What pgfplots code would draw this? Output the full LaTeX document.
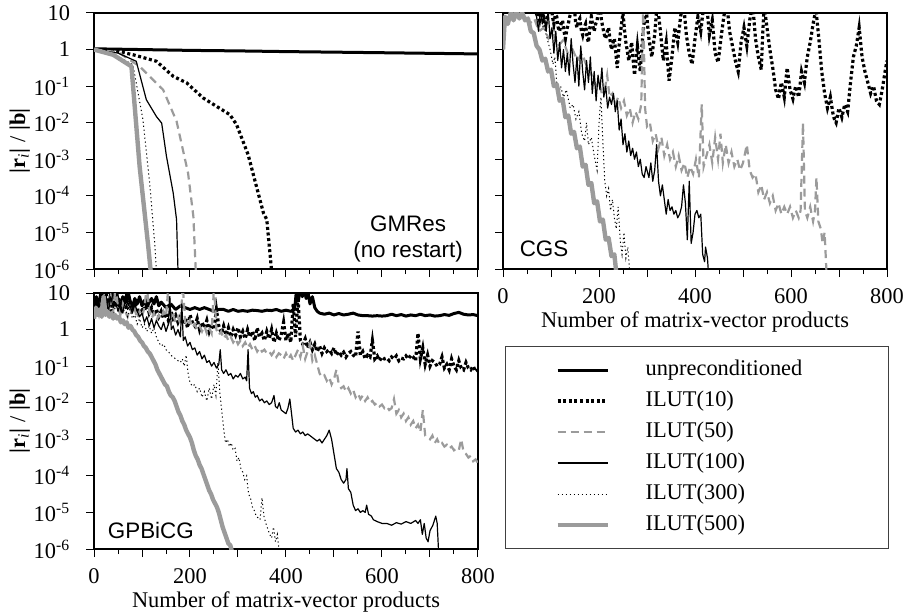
\documentclass[border=0pt]{standalone}
\usepackage{fontspec}
\setmainfont{Liberation Serif}
\newfontfamily\sansf{Liberation Sans}
\usepackage{pgfplots}
\pgfplotsset{compat=1.18}
\definecolor{mygray}{RGB}{155,155,155}
\tikzset{
  pA/.style={black, line width=1.5pt, line join=round},
  pB/.style={black, line width=1.6pt, dash pattern=on 1.5pt off 1.3pt},
  pC/.style={mygray, line width=1.1pt, dash pattern=on 4pt off 2.5pt},
  pD/.style={black, line width=0.6pt, line join=round},
  pE/.style={black, line width=0.5pt, dash pattern=on 0.6pt off 1.4pt},
  pF/.style={mygray, line width=2.2pt, line join=round},
}
\pgfplotsset{every axis/.append style={
    scale only axis, width=192pt, height=128pt,
    ymode=log, ymin=1e-6, ymax=10, xmin=0, xmax=800,
    ytick={1e-6,1e-5,1e-4,1e-3,1e-2,1e-1,1,10},
    yminorticks=false,
    xtick={0,100,...,800}, minor x tick num=1,
    tick align=outside, xtick pos=left, ytick pos=left,
    major tick length=4pt, minor tick length=2.5pt,
    tick style={black, line width=0.5pt},
    axis line style={line width=0.6pt},
    xticklabel style={yshift=-2pt},
    yticklabel style={xshift=-4pt},
    ylabel style={at={(axis description cs:-0.193,0.5)}, anchor=center},
    xlabel style={at={(axis description cs:0.5,-0.207)}, anchor=center},
}}
\begin{document}
\fontsize{11.2pt}{13.4pt}\selectfont
\begin{tikzpicture}
\useasboundingbox (0pt,0pt) rectangle (451.5pt,-307pt);
% ---------------- GMRes ----------------
\begin{axis}[at={(47pt,-134.5pt)}, anchor=south west,
  yticklabels={10\textsuperscript{-6},10\textsuperscript{-5},10\textsuperscript{-4},10\textsuperscript{-3},10\textsuperscript{-2},10\textsuperscript{-1},1,10},
  ylabel={\textbf{|r}\textsubscript{\textit{i}}\textbf{|} / \textbf{|b|}},
  xticklabels={}]
\addplot[pA] coordinates {(0,1.05)(100,1.0)(200,0.95)(300,0.92)(400,0.88)(500,0.85)(600,0.82)(700,0.79)(800,0.76)};
\addplot[pB] coordinates {(0,1.0)(40,0.95)(81,0.724)(130,0.479)(165,0.186)(193,0.123)(227,0.0479)(255,0.0282)(283,0.0166)(297,0.00891)(321,0.00135)(353,3.39e-5)(360,2.24e-5)(370,9e-7)};
\addplot[pC] coordinates {(0,1.0)(50,0.85)(95,0.347)(144,0.0794)(172,0.011)(196,4.17e-4)(207,2.75e-5)(212,9e-7)};
\addplot[pD] coordinates {(0,1.0)(50,0.8)(88,0.479)(109,0.0427)(130,0.0148)(141,0.00977)(151,0.0012)(165,1.2e-4)(172,2.24e-5)(175,9e-7)};
\addplot[pE] coordinates {(0,1.0)(40,0.75)(81,0.389)(102,0.012)(116,2.24e-4)(127,4.17e-6)(130,9e-7)};
\addplot[pF] coordinates {(0,1.0)(40,0.72)(78,0.347)(95,6.46e-4)(113,4.17e-6)(118,9e-7)};
\node[font=\sansf, align=center, inner sep=0pt] at (rel axis cs:0.818,0.117) {GMRes\\(no restart)};
\end{axis}
% ---------------- CGS ----------------
\begin{axis}[at={(251.5pt,-134.5pt)}, anchor=south west, yticklabels={},
  xticklabels={0,,200,,400,,600,,800}, xlabel={Number of matrix-vector products}]
\addplot[pB] coordinates {(70,20.0)(73,8.0)(76,6.31)(79,12.0)(82,8.91)(85,4.5)(88,3.98)(91,7.0)(94,10.0)(97,14.0)(100,20.0)(103,8.0)(106,5.01)(109,9.0)(112,7.94)(115,4.0)(118,3.16)(121,5.0)(124,6.31)(127,3.2)(130,2.00)(133,3.5)(136,5.01)(139,8.0)(142,10.0)(145,15.0)(148,20.0)(151,6.0)(154,3.98)(157,6.0)(160,7.08)(163,3.5)(166,2.51)(169,4.0)(172,5.01)(175,2.2)(178,1.58)(181,4.0)(184,7.94)(187,4.5)(190,3.16)(193,5.0)(196,6.31)(199,12.0)(202,20.0)(205,6.5)(208,3.98)(211,2.6)(214,2.00)(217,3.0)(220,3.98)(223,1.8)(226,1.00)(229,1.5)(232,2.00)(235,0.8)(238,0.316)(241,1.0)(244,2.51)(247,5.0)(250,10.0)(253,3.5)(256,1.58)(259,0.9)(262,0.501)(265,0.9)(268,1.58)(271,0.55)(274,0.200)(277,0.5)(280,1.26)(283,0.55)(286,0.251)(289,1.0)(292,3.16)(295,7.0)(298,15.8)(301,5.0)(304,2.00)(307,1.1)(310,0.631)(313,1.3)(316,2.51)(319,8.0)(322,20.0)(325,7.0)(328,3.16)(331,1.2)(334,0.501)(337,0.9)(340,1.58)(343,0.45)(346,0.141)(349,0.3)(352,0.631)(355,1.6)(358,3.98)(361,2.5)(364,1.58)(367,3.5)(370,7.94)(373,13.0)(376,20.0)(379,7.0)(382,2.51)(385,1.4)(388,0.794)(391,0.55)(394,0.398)(397,0.9)(400,2.00)(403,4.0)(406,7.94)(409,5.0)(412,3.16)(415,7.0)(418,15.8)(421,18.0)(424,20.0)(427,7.0)(430,2.51)(433,4.0)(436,6.31)(439,2.2)(442,0.794)(445,0.6)(448,0.447)(451,0.9)(454,2.00)(457,4.0)(460,7.94)(463,13.0)(466,20.0)(469,8.0)(472,3.16)(475,2.0)(478,1.26)(481,0.8)(484,0.501)(487,0.35)(490,0.251)(493,0.6)(496,1.58)(499,2.5)(502,3.98)(505,2.2)(508,1.26)(511,2.8)(514,6.31)(517,11.0)(520,20.0)(523,6.0)(526,2.00)(529,1.1)(532,0.631)(535,0.42)(538,0.282)(541,2.5)(544,15.8)(547,8.0)(550,3.98)(553,2.0)(556,1.00)(559,0.55)(562,0.316)(565,0.16)(568,0.0794)(571,0.06)(574,0.0447)(577,0.08)(580,0.126)(583,0.08)(586,0.0501)(589,0.13)(592,0.316)(595,0.16)(598,0.0794)(601,0.06)(604,0.0447)(607,0.07)(610,0.100)(613,0.07)(616,0.0501)(619,0.11)(622,0.251)(625,0.18)(628,0.126)(631,0.3)(634,0.631)(637,1.0)(640,1.58)(643,2.8)(646,5.01)(649,8.0)(652,12.6)(655,5.0)(658,2.00)(661,0.7)(664,0.251)(667,0.13)(670,0.0631)(673,0.04)(676,0.0251)(679,0.035)(682,0.0501)(685,0.028)(688,0.0158)(691,0.012)(694,0.0100)(697,0.016)(700,0.0251)(703,0.019)(706,0.0141)(709,0.021)(712,0.0316)(715,0.025)(718,0.0200)(721,0.05)(724,0.126)(727,0.28)(730,0.631)(733,0.9)(736,1.26)(739,2.2)(742,3.98)(745,1.6)(748,0.631)(751,0.4)(754,0.251)(757,0.18)(760,0.126)(763,0.09)(766,0.0631)(769,0.08)(772,0.100)(775,0.063)(778,0.0398)(781,0.035)(784,0.0316)(787,0.05)(790,0.0794)(793,0.14)(796,0.251)(800,0.501)};
\addplot[pC] coordinates {(0,1.00)(5,6.31)(15,12.6)(25,7.94)(35,15.8)(45,7.94)(55,5.01)(65,7.08)(75,3.16)(85,3.98)(95,2.00)(105,2.82)(115,1.26)(125,1.78)(135,0.794)(145,1.00)(155,0.501)(165,0.794)(170,0.501)(176,0.316)(182,0.251)(188,0.158)(194,0.100)(200,0.126)(206,0.0631)(212,0.0794)(217,0.200)(222,0.0501)(228,0.0631)(234,0.0316)(240,0.0501)(246,0.0251)(252,0.0398)(258,0.0158)(264,0.0251)(270,0.0100)(276,0.0200)(282,0.0126)(288,0.0316)(292,15.8)(296,0.0251)(300,7.94e-3)(306,1.00e-2)(312,3.16e-3)(318,5.01e-3)(324,2.00e-3)(330,3.98e-3)(336,1.26e-3)(342,2.51e-3)(348,1.00e-3)(354,1.58e-3)(360,6.31e-4)(366,1.26e-3)(372,5.01e-4)(378,7.94e-4)(384,3.16e-4)(390,6.31e-4)(396,3.98e-4)(402,1.00e-3)(408,3.16e-4)(414,3.16e-2)(418,6.31e-4)(424,1.26e-3)(430,2.51e-3)(436,7.94e-4)(442,3.98e-3)(448,1.00e-3)(453,5.01e-3)(458,7.94e-4)(464,2.51e-3)(470,7.94e-4)(476,1.58e-3)(482,6.31e-4)(488,1.00e-3)(494,5.01e-4)(500,7.94e-4)(508,2.51e-3)(514,5.01e-4)(520,3.16e-4)(526,3.98e-4)(532,1.26e-4)(538,2.00e-4)(544,7.94e-5)(550,1.26e-4)(556,6.31e-5)(562,1.00e-4)(568,3.98e-5)(574,6.31e-5)(580,3.16e-5)(586,5.01e-5)(592,3.16e-5)(598,5.01e-5)(604,2.51e-5)(610,3.98e-5)(616,2.51e-5)(620,3.98e-5)(625,1.00e-2)(629,3.98e-5)(634,2.51e-5)(640,5.01e-5)(646,2.00e-5)(650,3.98e-5)(653,3.16e-4)(657,2.00e-5)(662,1.26e-5)(666,5.01e-6)(670,1.00e-5)(674,7.94e-7)};
\addplot[pD] coordinates {(60,15.8)(70,7.94)(74,3.16)(78,12.6)(82,5.01)(86,8.91)(90,3.16)(94,12.6)(98,2.00)(102,3.98)(106,0.794)(110,3.16)(114,0.501)(118,1.58)(122,0.316)(126,1.00)(130,0.251)(134,0.794)(138,0.200)(142,2.00)(146,0.398)(150,0.126)(154,0.631)(158,0.100)(162,1.26)(166,0.251)(170,0.0794)(174,0.501)(178,0.126)(182,0.631)(186,0.0631)(190,0.251)(194,0.0398)(198,0.200)(202,0.0794)(206,0.316)(210,0.0501)(214,0.100)(218,0.0251)(222,0.0501)(226,0.0316)(230,0.0631)(234,0.0200)(238,0.0398)(242,6.31e-3)(246,1.26e-2)(250,2.51e-3)(254,5.01e-3)(258,1.58e-3)(262,3.16e-3)(266,1.26e-3)(270,2.00e-3)(274,1.00e-3)(278,1.58e-3)(282,6.31e-4)(286,1.00e-3)(290,3.98e-4)(294,3.16e-4)(298,6.31e-4)(304,3.16e-4)(308,7.94e-4)(312,2.51e-4)(316,5.01e-4)(320,2.51e-3)(324,2.51e-4)(328,1.00e-4)(332,2.00e-4)(336,7.94e-5)(340,3.16e-5)(344,7.94e-5)(348,3.98e-5)(352,5.01e-5)(356,3.16e-5)(360,3.98e-5)(364,2.51e-5)(368,3.16e-5)(372,5.01e-5)(376,2.00e-4)(380,6.31e-5)(384,6.31e-6)(388,2.51e-4)(392,5.01e-6)(396,1.00e-5)(400,3.16e-5)(404,3.98e-5)(408,2.51e-5)(412,3.16e-5)(416,2.51e-6)(420,1.58e-6)(422,3.98e-6)(426,2.00e-6)(428,7.94e-7)};
\addplot[pE] coordinates {(80,15.8)(86,3.98)(92,2.00)(98,1.00)(104,0.398)(108,0.631)(112,0.126)(116,0.0631)(120,0.100)(126,0.0501)(132,0.0794)(140,0.0251)(146,0.0316)(152,0.0126)(158,0.0200)(164,5.01e-3)(170,3.16e-3)(174,1.00e-2)(178,2.51e-3)(184,3.98e-3)(190,1.26e-3)(196,5.01e-4)(200,1.00e-2)(204,5.01e-2)(208,3.16e-3)(212,2.51e-4)(216,1.00e-4)(220,1.58e-4)(224,3.98e-5)(228,7.94e-5)(232,2.51e-5)(236,1.26e-5)(240,5.01e-5)(244,6.31e-6)(248,2.51e-6)(252,1.00e-5)(256,2.00e-6)(260,3.98e-6)(264,7.94e-7)};
\addplot[pF] coordinates {(0,1.00)(4,7.94)(10,5.01)(16,10.0)(22,6.31)(28,11.2)(34,7.08)(40,10.0)(46,6.31)(52,7.08)(58,3.16)(64,2.82)(70,1.26)(76,1.00)(82,0.501)(88,0.562)(94,0.251)(100,0.282)(106,0.100)(112,0.112)(118,0.0398)(124,0.0447)(130,0.0141)(136,0.0158)(142,5.01e-3)(148,5.62e-3)(154,2.00e-3)(160,2.24e-3)(166,6.31e-4)(172,7.08e-4)(178,2.00e-4)(184,2.24e-4)(190,6.31e-5)(196,7.08e-5)(202,2.00e-5)(208,2.24e-5)(214,6.31e-6)(220,7.08e-6)(226,2.24e-6)(232,2.51e-6)(236,7.94e-7)};
\node[font=\sansf, inner sep=0pt] at (rel axis cs:0.107,0.078) {CGS};
\end{axis}
% ---------------- GPBiCG ----------------
\begin{axis}[at={(47pt,-274.5pt)}, anchor=south west,
  yticklabels={10\textsuperscript{-6},10\textsuperscript{-5},10\textsuperscript{-4},10\textsuperscript{-3},10\textsuperscript{-2},10\textsuperscript{-1},1,10},
  ylabel={\textbf{|r}\textsubscript{\textit{i}}\textbf{|} / \textbf{|b|}},
  xticklabels={0,,200,,400,,600,,800}, xlabel={Number of matrix-vector products},
  legend image code/.code={\path[draw=none,fill=none] (-26pt,0pt) -- (44pt,0pt); \draw[#1] (0pt,0pt) -- (25pt,0pt);},
  legend cell align=left,
  legend style={at={(1.0703,0.793)}, anchor=north west, draw=black!75, line width=0.6pt,
     inner xsep=0pt, inner ysep=6.5pt, row sep=5pt,
     nodes={inner sep=0pt, text height=8pt, text depth=2.5pt}}]
\addplot[pA] coordinates {(0,3.16)(5,7.94)(10,3.98)(15,12.6)(20,5.01)(25,7.08)(30,3.98)(35,10.0)(40,5.01)(45,15.8)(50,6.31)(55,3.98)(60,7.94)(65,5.62)(70,12.6)(75,6.31)(80,3.98)(85,7.08)(90,5.01)(95,7.94)(100,4.47)(105,6.31)(110,3.98)(115,5.62)(120,7.08)(125,5.01)(130,7.94)(135,4.47)(140,5.62)(150,3.98)(160,5.01)(170,3.55)(180,4.47)(190,3.98)(200,3.55)(210,3.98)(220,3.55)(230,3.98)(240,3.55)(250,3.16)(260,3.55)(270,3.55)(280,3.16)(290,3.55)(300,3.16)(310,3.31)(320,3.16)(330,3.39)(340,3.31)(350,3.16)(360,3.39)(370,3.31)(380,3.55)(390,3.16)(400,3.39)(410,3.16)(418,3.55)(422,12.6)(426,6.31)(430,15.8)(434,7.94)(438,12.6)(442,7.08)(446,10.0)(450,5.01)(455,7.94)(460,3.98)(465,3.16)(470,2.82)(480,2.63)(490,2.82)(500,2.51)(510,2.75)(520,2.51)(530,2.63)(540,2.82)(550,2.51)(560,2.40)(570,2.40)(580,2.34)(590,2.40)(600,2.34)(610,2.40)(620,2.63)(630,2.40)(640,2.57)(650,2.34)(660,2.51)(670,2.40)(680,2.63)(690,2.40)(700,2.51)(710,2.34)(720,2.40)(730,2.57)(740,2.45)(750,2.75)(760,2.95)(770,2.63)(780,2.51)(790,2.57)(800,2.40)};
\addlegendentry{\makebox[121.5pt][l]{unpreconditioned}}
\addplot[pB] coordinates {(0,2.51)(5,6.31)(10,3.16)(15,7.94)(20,3.98)(25,10.0)(30,5.01)(35,3.16)(40,6.31)(45,3.98)(50,7.94)(55,3.16)(60,5.01)(65,3.55)(70,6.31)(75,3.98)(80,3.16)(85,5.01)(90,3.55)(95,2.82)(100,3.98)(105,3.16)(110,5.62)(115,2.82)(120,3.98)(125,2.51)(130,3.55)(135,2.24)(140,3.16)(145,2.00)(150,2.82)(155,1.78)(160,3.16)(165,2.00)(170,2.51)(175,1.58)(180,2.24)(185,1.41)(190,2.00)(195,1.12)(200,2.51)(205,1.58)(210,1.26)(215,2.00)(220,1.00)(225,1.58)(230,1.12)(235,1.78)(240,0.891)(245,1.41)(250,1.00)(255,3.55)(260,1.26)(265,0.794)(270,1.26)(275,0.708)(280,1.12)(285,0.631)(290,1.00)(295,0.708)(300,1.12)(305,0.631)(310,0.891)(315,0.562)(320,1.00)(325,0.631)(330,0.891)(335,0.501)(340,1.12)(345,0.631)(350,0.794)(355,0.501)(360,0.891)(365,0.562)(370,1.00)(375,0.447)(380,0.794)(385,0.501)(390,0.708)(395,1.58)(400,0.501)(405,0.794)(410,0.447)(415,5.01)(420,0.631)(425,7.94)(430,0.501)(435,0.398)(440,0.562)(445,0.316)(450,0.447)(455,0.282)(460,0.398)(465,0.251)(470,0.355)(475,0.224)(480,0.316)(485,0.251)(490,0.282)(495,0.224)(500,0.316)(505,0.200)(510,0.251)(515,0.200)(520,0.240)(525,0.178)(530,0.224)(535,0.251)(540,0.200)(545,0.178)(550,0.891)(555,0.200)(560,0.251)(565,0.158)(570,0.200)(575,0.178)(580,0.501)(585,0.158)(590,0.191)(595,0.141)(600,0.178)(605,0.158)(610,0.166)(615,0.141)(620,0.178)(625,0.158)(630,0.191)(635,0.141)(640,0.166)(645,0.158)(650,0.191)(655,0.158)(660,0.200)(665,0.178)(670,0.141)(675,0.794)(680,0.158)(685,0.316)(690,0.112)(695,0.200)(700,0.100)(705,0.141)(710,0.126)(715,0.100)(720,0.112)(725,0.178)(730,0.0891)(735,0.112)(740,0.0794)(745,0.158)(750,0.100)(755,0.0794)(760,0.141)(765,0.0891)(770,0.0794)(775,0.126)(780,0.0891)(785,0.0794)(790,0.100)(795,0.0708)(800,0.0794)};
\addlegendentry{\makebox[121.5pt][l]{ILUT(10)}}
\addplot[pC] coordinates {(0,2.00)(5,3.98)(10,2.51)(15,6.31)(20,3.16)(25,5.01)(30,2.82)(35,7.94)(40,3.16)(45,15.8)(50,3.98)(55,2.51)(60,5.01)(65,3.16)(70,2.24)(75,3.98)(80,2.51)(85,3.55)(90,2.00)(95,3.16)(100,2.24)(105,3.98)(110,15.8)(115,3.16)(120,2.00)(125,2.82)(130,1.78)(135,2.51)(140,2.00)(145,3.16)(150,2.24)(155,15.8)(160,2.00)(165,2.51)(170,1.58)(175,2.24)(180,1.41)(185,15.8)(190,1.58)(195,1.26)(200,1.78)(205,1.12)(210,1.41)(215,1.00)(220,1.26)(225,0.891)(230,1.26)(235,0.794)(240,1.12)(245,0.794)(250,15.8)(255,1.00)(260,0.708)(265,0.891)(270,0.562)(275,0.708)(280,0.501)(285,0.631)(290,0.447)(295,0.562)(300,0.398)(305,0.501)(310,0.355)(315,0.447)(320,0.316)(325,0.398)(330,0.282)(335,0.355)(340,0.251)(345,0.316)(350,0.251)(355,0.282)(360,0.224)(365,0.251)(370,0.200)(375,0.251)(380,0.178)(385,0.224)(390,0.200)(395,0.158)(400,0.224)(405,0.158)(410,0.200)(415,0.141)(420,0.200)(425,0.282)(430,0.178)(435,0.355)(440,0.158)(445,0.251)(450,0.398)(455,0.141)(460,0.200)(465,0.112)(470,0.0631)(475,0.0501)(480,0.0562)(485,0.0398)(490,0.0501)(495,0.0316)(500,0.0447)(505,0.0794)(510,0.0316)(515,0.0251)(520,0.0282)(525,0.0200)(530,0.0251)(535,0.0178)(540,0.0224)(545,0.0141)(550,0.0178)(555,0.0126)(560,0.0158)(565,0.0112)(570,0.0141)(575,0.0100)(580,0.0112)(585,8.91e-3)(590,1.00e-2)(595,7.94e-3)(600,8.91e-3)(605,7.08e-3)(610,7.94e-3)(615,6.31e-3)(620,7.08e-3)(625,1.26e-2)(630,5.01e-3)(635,6.31e-3)(640,3.98e-3)(645,5.01e-3)(650,3.16e-3)(655,3.98e-3)(660,2.51e-3)(665,3.16e-3)(670,2.00e-3)(675,2.51e-3)(680,1.58e-3)(685,6.31e-3)(690,1.26e-3)(695,1.12e-3)(700,1.00e-3)(705,1.26e-3)(710,7.94e-4)(715,1.00e-3)(720,7.08e-4)(725,7.94e-4)(730,6.31e-4)(735,7.08e-4)(740,5.62e-4)(745,6.31e-4)(750,5.01e-4)(755,5.62e-4)(760,5.01e-4)(765,1.00e-3)(770,4.47e-4)(775,3.98e-4)(780,3.16e-4)(785,3.55e-4)(790,2.51e-4)(795,2.82e-4)(800,2.24e-4)};
\addlegendentry{\makebox[121.5pt][l]{ILUT(50)}}
\addplot[pD] coordinates {(0,2.51)(5,6.31)(10,3.16)(15,10.0)(20,3.98)(25,6.31)(30,3.16)(35,7.94)(40,3.98)(45,5.62)(50,3.16)(55,5.01)(60,2.82)(65,6.31)(70,3.55)(75,4.47)(80,2.82)(85,5.01)(90,3.16)(95,2.24)(100,2.82)(105,1.58)(110,2.24)(115,1.26)(120,2.00)(125,1.12)(130,1.78)(135,1.26)(140,1.00)(145,1.58)(150,0.891)(155,1.41)(158,7.94)(161,1.00)(165,1.26)(170,0.708)(175,1.00)(180,0.631)(183,5.01)(186,0.501)(190,0.631)(195,0.355)(200,0.447)(205,0.282)(210,0.316)(215,0.200)(220,0.251)(225,0.158)(230,0.200)(235,0.126)(240,0.141)(245,0.100)(250,0.126)(255,0.0891)(260,0.112)(263,0.282)(266,0.0794)(270,0.0631)(275,0.0794)(280,0.0562)(285,0.0631)(290,0.0447)(295,0.0562)(300,0.0501)(305,0.0631)(310,0.0447)(315,0.0501)(318,0.0398)(321,0.282)(324,0.0251)(328,0.0178)(332,0.0200)(336,0.0141)(340,0.0158)(345,0.0112)(350,0.0126)(355,0.0100)(360,0.0112)(365,8.91e-3)(370,1.00e-2)(375,1.58e-2)(378,7.94e-3)(382,7.08e-3)(386,1.00e-2)(390,6.31e-3)(395,5.62e-3)(400,5.01e-3)(404,7.08e-3)(408,1.26e-2)(412,4.47e-3)(415,2.00e-3)(420,1.58e-3)(425,1.78e-3)(430,1.41e-3)(435,1.58e-3)(440,1.26e-3)(445,1.41e-3)(450,1.26e-3)(455,1.12e-3)(460,1.00e-3)(465,8.91e-4)(470,1.00e-3)(475,7.94e-4)(480,1.00e-3)(485,1.26e-3)(490,1.78e-3)(495,1.00e-3)(500,3.98e-4)(505,1.58e-4)(510,1.26e-4)(515,7.94e-5)(520,6.31e-5)(525,7.94e-5)(527,1.58e-4)(530,4.47e-5)(535,3.55e-5)(540,1.58e-5)(545,1.12e-5)(550,1.26e-5)(555,1.00e-5)(560,1.12e-5)(565,1.00e-5)(568,1.58e-5)(572,8.91e-6)(578,7.94e-6)(582,6.31e-6)(590,5.62e-6)(600,5.01e-6)(610,5.01e-6)(620,4.47e-6)(630,5.25e-6)(640,4.79e-6)(650,5.62e-6)(660,5.01e-6)(670,6.03e-6)(675,5.01e-6)(680,6.31e-6)(684,2.51e-6)(688,5.01e-6)(692,2.00e-6)(696,1.58e-6)(700,3.16e-6)(706,4.47e-6)(712,7.94e-6)(715,5.01e-6)(718,7.94e-7)};
\addlegendentry{\makebox[121.5pt][l]{ILUT(100)}}
\addplot[pE] coordinates {(0,2.51)(5,5.01)(10,2.82)(15,7.94)(20,3.16)(25,6.31)(30,3.55)(35,5.01)(40,2.51)(45,4.47)(50,3.16)(55,6.31)(60,2.82)(65,3.98)(70,2.24)(75,3.55)(80,2.00)(85,2.51)(90,1.41)(95,2.00)(100,1.12)(105,1.41)(110,0.891)(115,1.26)(120,0.794)(125,1.12)(130,0.631)(135,0.447)(140,0.355)(145,0.398)(150,0.282)(155,0.251)(160,0.200)(165,0.178)(170,0.158)(175,0.141)(180,0.126)(184,0.158)(188,0.100)(192,0.200)(196,0.0631)(200,0.0355)(205,0.0282)(210,0.0316)(215,0.0200)(220,0.0251)(225,0.0141)(230,0.0200)(235,0.0112)(240,0.0251)(245,0.0126)(250,0.0316)(254,0.0158)(258,0.126)(262,0.0200)(266,6.31e-3)(270,2.00e-3)(274,7.94e-4)(278,1.00e-3)(282,6.31e-4)(286,7.94e-4)(290,5.01e-4)(294,5.62e-4)(298,2.51e-4)(302,3.16e-4)(306,1.58e-4)(310,1.26e-4)(314,7.94e-5)(318,1.00e-4)(322,3.16e-5)(326,2.51e-5)(330,1.41e-5)(334,1.12e-5)(338,7.94e-6)(342,7.08e-6)(346,6.31e-6)(350,2.51e-5)(354,7.94e-6)(358,5.01e-6)(362,3.55e-6)(366,2.51e-6)(370,2.00e-6)(374,3.98e-6)(378,1.58e-6)(382,2.51e-6)(386,7.94e-7)};
\addlegendentry{\makebox[121.5pt][l]{ILUT(300)}}
\addplot[pF] coordinates {(0,2.00)(4,3.98)(8,2.51)(12,3.55)(16,2.24)(20,7.94)(24,2.51)(28,3.16)(32,2.24)(36,2.82)(40,2.00)(44,2.51)(48,2.00)(52,2.24)(56,1.58)(60,1.78)(64,1.41)(68,1.58)(72,1.12)(76,1.26)(80,1.00)(84,0.891)(88,0.708)(92,0.631)(96,0.501)(100,0.447)(104,0.355)(108,0.316)(112,0.251)(116,0.224)(120,0.178)(124,0.141)(128,0.112)(132,0.0794)(136,0.0631)(140,0.0501)(144,0.0398)(148,0.0316)(152,0.0282)(156,0.0200)(160,0.0158)(164,0.0141)(168,0.0112)(172,7.94e-3)(176,5.62e-3)(180,4.47e-3)(184,3.16e-3)(188,2.51e-3)(192,1.78e-3)(196,1.41e-3)(200,1.12e-3)(204,7.94e-4)(208,5.01e-4)(212,3.55e-4)(216,2.82e-4)(220,2.00e-4)(224,1.58e-4)(228,1.12e-4)(232,7.94e-5)(236,5.62e-5)(240,3.98e-5)(244,3.16e-5)(248,2.24e-5)(252,1.78e-5)(256,1.41e-5)(260,1.00e-5)(264,6.31e-6)(268,3.98e-6)(272,2.82e-6)(276,2.00e-6)(280,1.41e-6)(284,1.26e-6)(288,7.94e-7)};
\addlegendentry{\makebox[121.5pt][l]{ILUT(500)}}
\node[font=\sansf, inner sep=0pt] at (rel axis cs:0.148,0.074) {GPBiCG};
\end{axis}
\end{tikzpicture}
\end{document}
